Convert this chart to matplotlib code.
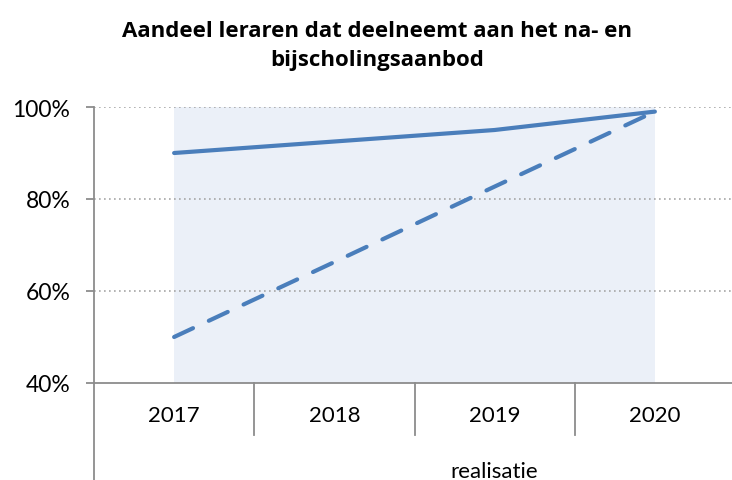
import matplotlib
matplotlib.use("Agg")
import matplotlib.pyplot as plt
from matplotlib.lines import Line2D
import matplotlib.transforms as mtransforms

years = ["2017", "2018", "2019", "2020"]
solid_values = [90, 92.5, 95, 99]
dashed_values = [50, 66.3, 82.7, 99]
yticks = [40, 60, 80, 100]
group_label = "realisatie"
title = "Aandeel leraren dat deelneemt aan het na- en\nbijscholingsaanbod"

plt.rcParams['font.family'] = ['Lato', 'DejaVu Sans']

W, H = 732, 481
fig = plt.figure(figsize=(W/100, H/100), dpi=100)
left_px, right_px, top_px, bot_px = 94, 735, 108, 384
ax = fig.add_axes([left_px/W, 1-bot_px/H, (right_px-left_px)/W, (bot_px-top_px)/H])

x = list(range(len(years)))
ax.set_xlim(-0.5, len(years)-0.5)
ax.set_ylim(40, 100)

ax.axvspan(0, len(years)-1, color='#EBF0F8', zorder=0, lw=0)

blue = '#4A7EBB'
ax.plot(x, solid_values, color=blue, lw=3.0, solid_capstyle='round', zorder=3)
ax.plot(x, dashed_values, color=blue, lw=3.0, dashes=(5, 4.2), dash_capstyle='round', zorder=3)

ax.set_yticks(yticks)
ax.set_yticklabels([f"{v}%" for v in yticks], fontsize=16.5)
for v in yticks[1:]:
    ax.axhline(v, color='#A6A6A6', lw=1.2, ls=(0, (1, 2)), zorder=1)

for s in ['top', 'right']:
    ax.spines[s].set_visible(False)
gray = '#8C8C8C'
ax.spines['left'].set_color(gray)
ax.spines['bottom'].set_color(gray)
ax.spines['left'].set_linewidth(1.3)
ax.spines['bottom'].set_linewidth(1.3)
ax.tick_params(axis='y', length=6, width=1.3, color=gray, pad=11)
ax.tick_params(axis='x', length=0)
ax.set_xticks(x)
ax.set_xticklabels(years, fontsize=16)
ax.tick_params(axis='x', pad=16)

trans = mtransforms.blended_transform_factory(ax.transData, ax.transAxes)
axh = bot_px - top_px
for b in [0.5, 1.5, 2.5]:
    ax.add_line(Line2D([b, b], [0, -52/axh], transform=trans, color=gray, lw=1.3, clip_on=False))
ax.add_line(Line2D([-0.5, -0.5], [0, -100/axh], transform=trans, color=gray, lw=1.3, clip_on=False))

ax.text(2, -88/axh, group_label, transform=trans, ha='center', va='center', fontsize=16)

fig.text(377/W, 1-46/H, title, ha='center', va='center', fontsize=16, fontweight='bold',
         family=['Open Sans', 'DejaVu Sans'], linespacing=1.45)

fig.savefig("out.png", dpi=100)
